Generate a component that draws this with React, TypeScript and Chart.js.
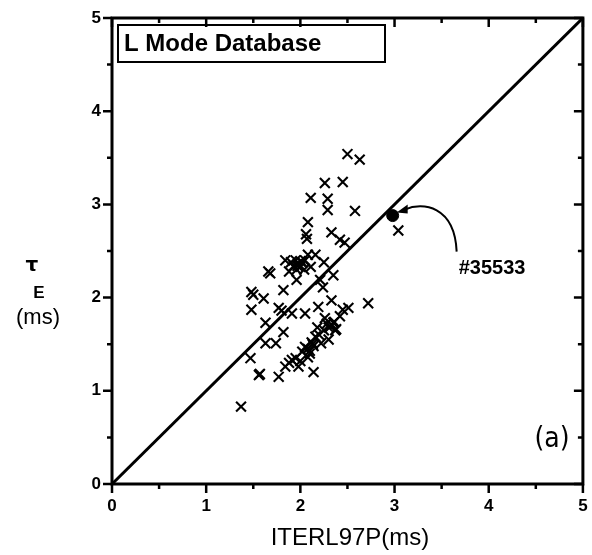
import { useEffect, useRef } from "react";
import { Chart, registerables } from "chart.js";
Chart.register(...registerables);

const axisTicks = [0, 1, 2, 3, 4, 5];
const lModeX = [
  2.5, 2.63, 2.26, 2.45, 2.11, 2.29, 2.29, 2.58, 2.08, 2.06, 2.07, 2.33, 2.42, 2.47, 3.04, 2.72,
  1.84, 1.9, 1.95, 1.98, 2.0, 1.96, 2.02, 2.04, 1.93, 2.11, 2.16, 2.08, 2.25, 2.21, 2.24, 2.35, 2.05, 1.88,
  1.68, 1.66, 1.82, 1.48, 1.5, 1.61, 1.48, 1.77, 1.8, 1.91, 1.96, 1.63, 1.82, 2.05, 2.19, 2.33, 2.51, 2.45,
  2.33, 2.3, 2.36, 2.28, 2.38, 2.25, 2.16, 2.2, 2.12, 2.05, 2.08, 2.14, 2.1, 2.02, 1.74, 1.63, 1.47, 1.56,
  1.57, 1.77, 1.91, 1.98, 2.14, 1.84, 2.08, 2.22, 2.37, 2.42, 2.26, 2.18, 1.95, 1.88, 2.0, 2.3, 1.37,
  1.97, 2.0, 2.32, 2.35, 2.1, 2.13,
];
const lModeY = [
  3.54, 3.48, 3.23, 3.24, 3.07, 3.06, 2.94, 2.93, 2.81, 2.68, 2.63, 2.7, 2.62, 2.59, 2.72, 1.94,
  2.4, 2.38, 2.4, 2.36, 2.33, 2.3, 2.38, 2.3, 2.34, 2.33, 2.46, 2.46, 2.38, 2.19, 2.11, 2.24, 2.4, 2.28,
  2.26, 2.28, 2.08, 2.06, 2.03, 1.99, 1.87, 1.89, 1.86, 1.83, 2.19, 1.73, 1.63, 1.83, 1.9, 1.97, 1.89, 1.87,
  1.71, 1.68, 1.74, 1.72, 1.66, 1.65, 1.58, 1.6, 1.52, 1.47, 1.45, 1.48, 1.4, 1.42, 1.51, 1.51, 1.35, 1.17,
  1.18, 1.15, 1.33, 1.26, 1.2, 1.26, 1.36, 1.51, 1.65, 1.8, 1.78, 1.68, 1.35, 1.3, 1.32, 1.55, 0.83,
  2.34, 2.39, 1.69, 1.73, 1.43, 1.5,
];
const shotX = [2.98];
const shotY = [2.88];
const shotLabel = "#35533";
const diagonalX = [0, 5];
const diagonalY = [0, 5];
const boxTitle = "L Mode Database";
const xTitle = "ITERL97P(ms)";
const panelLabel = "(a)";

export default function App() {
  const ref = useRef<HTMLCanvasElement>(null);
  useEffect(() => {
    document.body.style.margin = "0";
    const deco = {
      id: "deco",
      afterDraw(chart: any) {
        const ctx = chart.ctx as CanvasRenderingContext2D;
        const { left, right, top, bottom } = chart.chartArea;
        const xs = chart.scales.x;
        const ys = chart.scales.y;
        ctx.save();
        ctx.strokeStyle = "#000";
        ctx.fillStyle = "#000";
        ctx.lineWidth = 3;
        ctx.strokeRect(left, top, right - left, bottom - top);
        ctx.lineWidth = 2.5;
        for (let v = 0; v <= 5.001; v += 0.5) {
          const major = Math.abs(v - Math.round(v)) < 1e-6;
          const px = xs.getPixelForValue(v);
          const py = ys.getPixelForValue(v);
          ctx.beginPath();
          ctx.moveTo(px, bottom);
          ctx.lineTo(px, bottom + (major ? 9 : 5));
          ctx.moveTo(px, top);
          ctx.lineTo(px, top + (major ? 9 : 5));
          ctx.moveTo(left, py);
          ctx.lineTo(left - (major ? 9 : 5), py);
          ctx.moveTo(right, py);
          ctx.lineTo(right - (major ? 9 : 5), py);
          ctx.stroke();
        }
        // tick labels
        ctx.font = "bold 17px 'Liberation Sans', Arial, sans-serif";
        ctx.textBaseline = "middle";
        ctx.textAlign = "center";
        axisTicks.forEach((v) => {
          ctx.fillText(String(v), xs.getPixelForValue(v), bottom + 22);
        });
        ctx.textAlign = "right";
        axisTicks.forEach((v) => {
          ctx.fillText(String(v), left - 11, ys.getPixelForValue(v));
        });
        // legend box
        ctx.lineWidth = 2;
        ctx.strokeRect(118, 25, 267, 37);
        ctx.font = "bold 24px 'Liberation Sans', Arial, sans-serif";
        ctx.textAlign = "left";
        ctx.fillText(boxTitle, 124, 44);
        // titles
        ctx.font = "24px 'Liberation Sans', Arial, sans-serif";
        ctx.textAlign = "center";
        ctx.fillText(xTitle, 350, 538);
        ctx.font = "22px 'Liberation Sans', Arial, sans-serif";
        ctx.fillText("(ms)", 38, 318);
        ctx.font = "bold 20px 'DejaVu Sans', sans-serif";
        ctx.fillText("τ", 32, 266);
        ctx.font = "bold 17px 'Liberation Sans', Arial, sans-serif";
        ctx.fillText("E", 39, 293);
        ctx.font = "28px 'DejaVu Sans Condensed', 'Liberation Sans', sans-serif";
        ctx.fillText(panelLabel, 552, 440);
        // annotation arrow
        const sx = xs.getPixelForValue(shotX[0]);
        const sy = ys.getPixelForValue(shotY[0]);
        ctx.lineWidth = 2;
        ctx.beginPath();
        ctx.moveTo(sx + 12, sy - 6);
        ctx.bezierCurveTo(sx + 30, sy - 14, sx + 62, sy - 10, sx + 64, sy + 36);
        ctx.stroke();
        ctx.beginPath();
        ctx.moveTo(sx + 4, sy - 3);
        ctx.lineTo(sx + 15, sy - 11);
        ctx.lineTo(sx + 15, sy - 2);
        ctx.closePath();
        ctx.fill();
        ctx.font = "bold 20px 'Liberation Sans', Arial, sans-serif";
        ctx.textAlign = "left";
        ctx.fillText(shotLabel, sx + 66, sy + 53);
        ctx.restore();
      },
    };
    const chart = new Chart(ref.current!, {
      type: "scatter",
      data: {
        datasets: [
          {
            type: "line",
            data: diagonalX.map((x, i) => ({ x, y: diagonalY[i] })),
            borderColor: "#000",
            borderWidth: 3,
            pointRadius: 0,
          } as any,
          {
            data: lModeX.map((x, i) => ({ x, y: lModeY[i] })),
            pointStyle: "crossRot",
            pointRadius: 7,
            borderColor: "#000",
            borderWidth: 2.1,
          },
          {
            data: shotX.map((x, i) => ({ x, y: shotY[i] })),
            pointStyle: "circle",
            pointRadius: 6,
            backgroundColor: "#000",
            borderColor: "#000",
          },
        ],
      },
      options: {
        animation: false,
        responsive: false,
        devicePixelRatio: 1,
        layout: { padding: { top: 18, right: 3, left: 0, bottom: 0 } },
        plugins: { legend: { display: false }, tooltip: { enabled: false } },
        scales: {
          x: {
            type: "linear",
            min: 0,
            max: 5,
            afterFit: (s: any) => {
              s.height = 71;
            },
            ticks: { display: false },
            grid: { display: false, drawTicks: false },
            border: { display: false },
          },
          y: {
            type: "linear",
            min: 0,
            max: 5,
            afterFit: (s: any) => {
              s.width = 112;
            },
            ticks: { display: false },
            grid: { display: false, drawTicks: false },
            border: { display: false },
          },
        },
      },
      plugins: [deco],
    });
    return () => chart.destroy();
  }, []);
  return (
    <div style={{ width: 592, height: 555 }}>
      <canvas ref={ref} width={592} height={555} />
    </div>
  );
}
